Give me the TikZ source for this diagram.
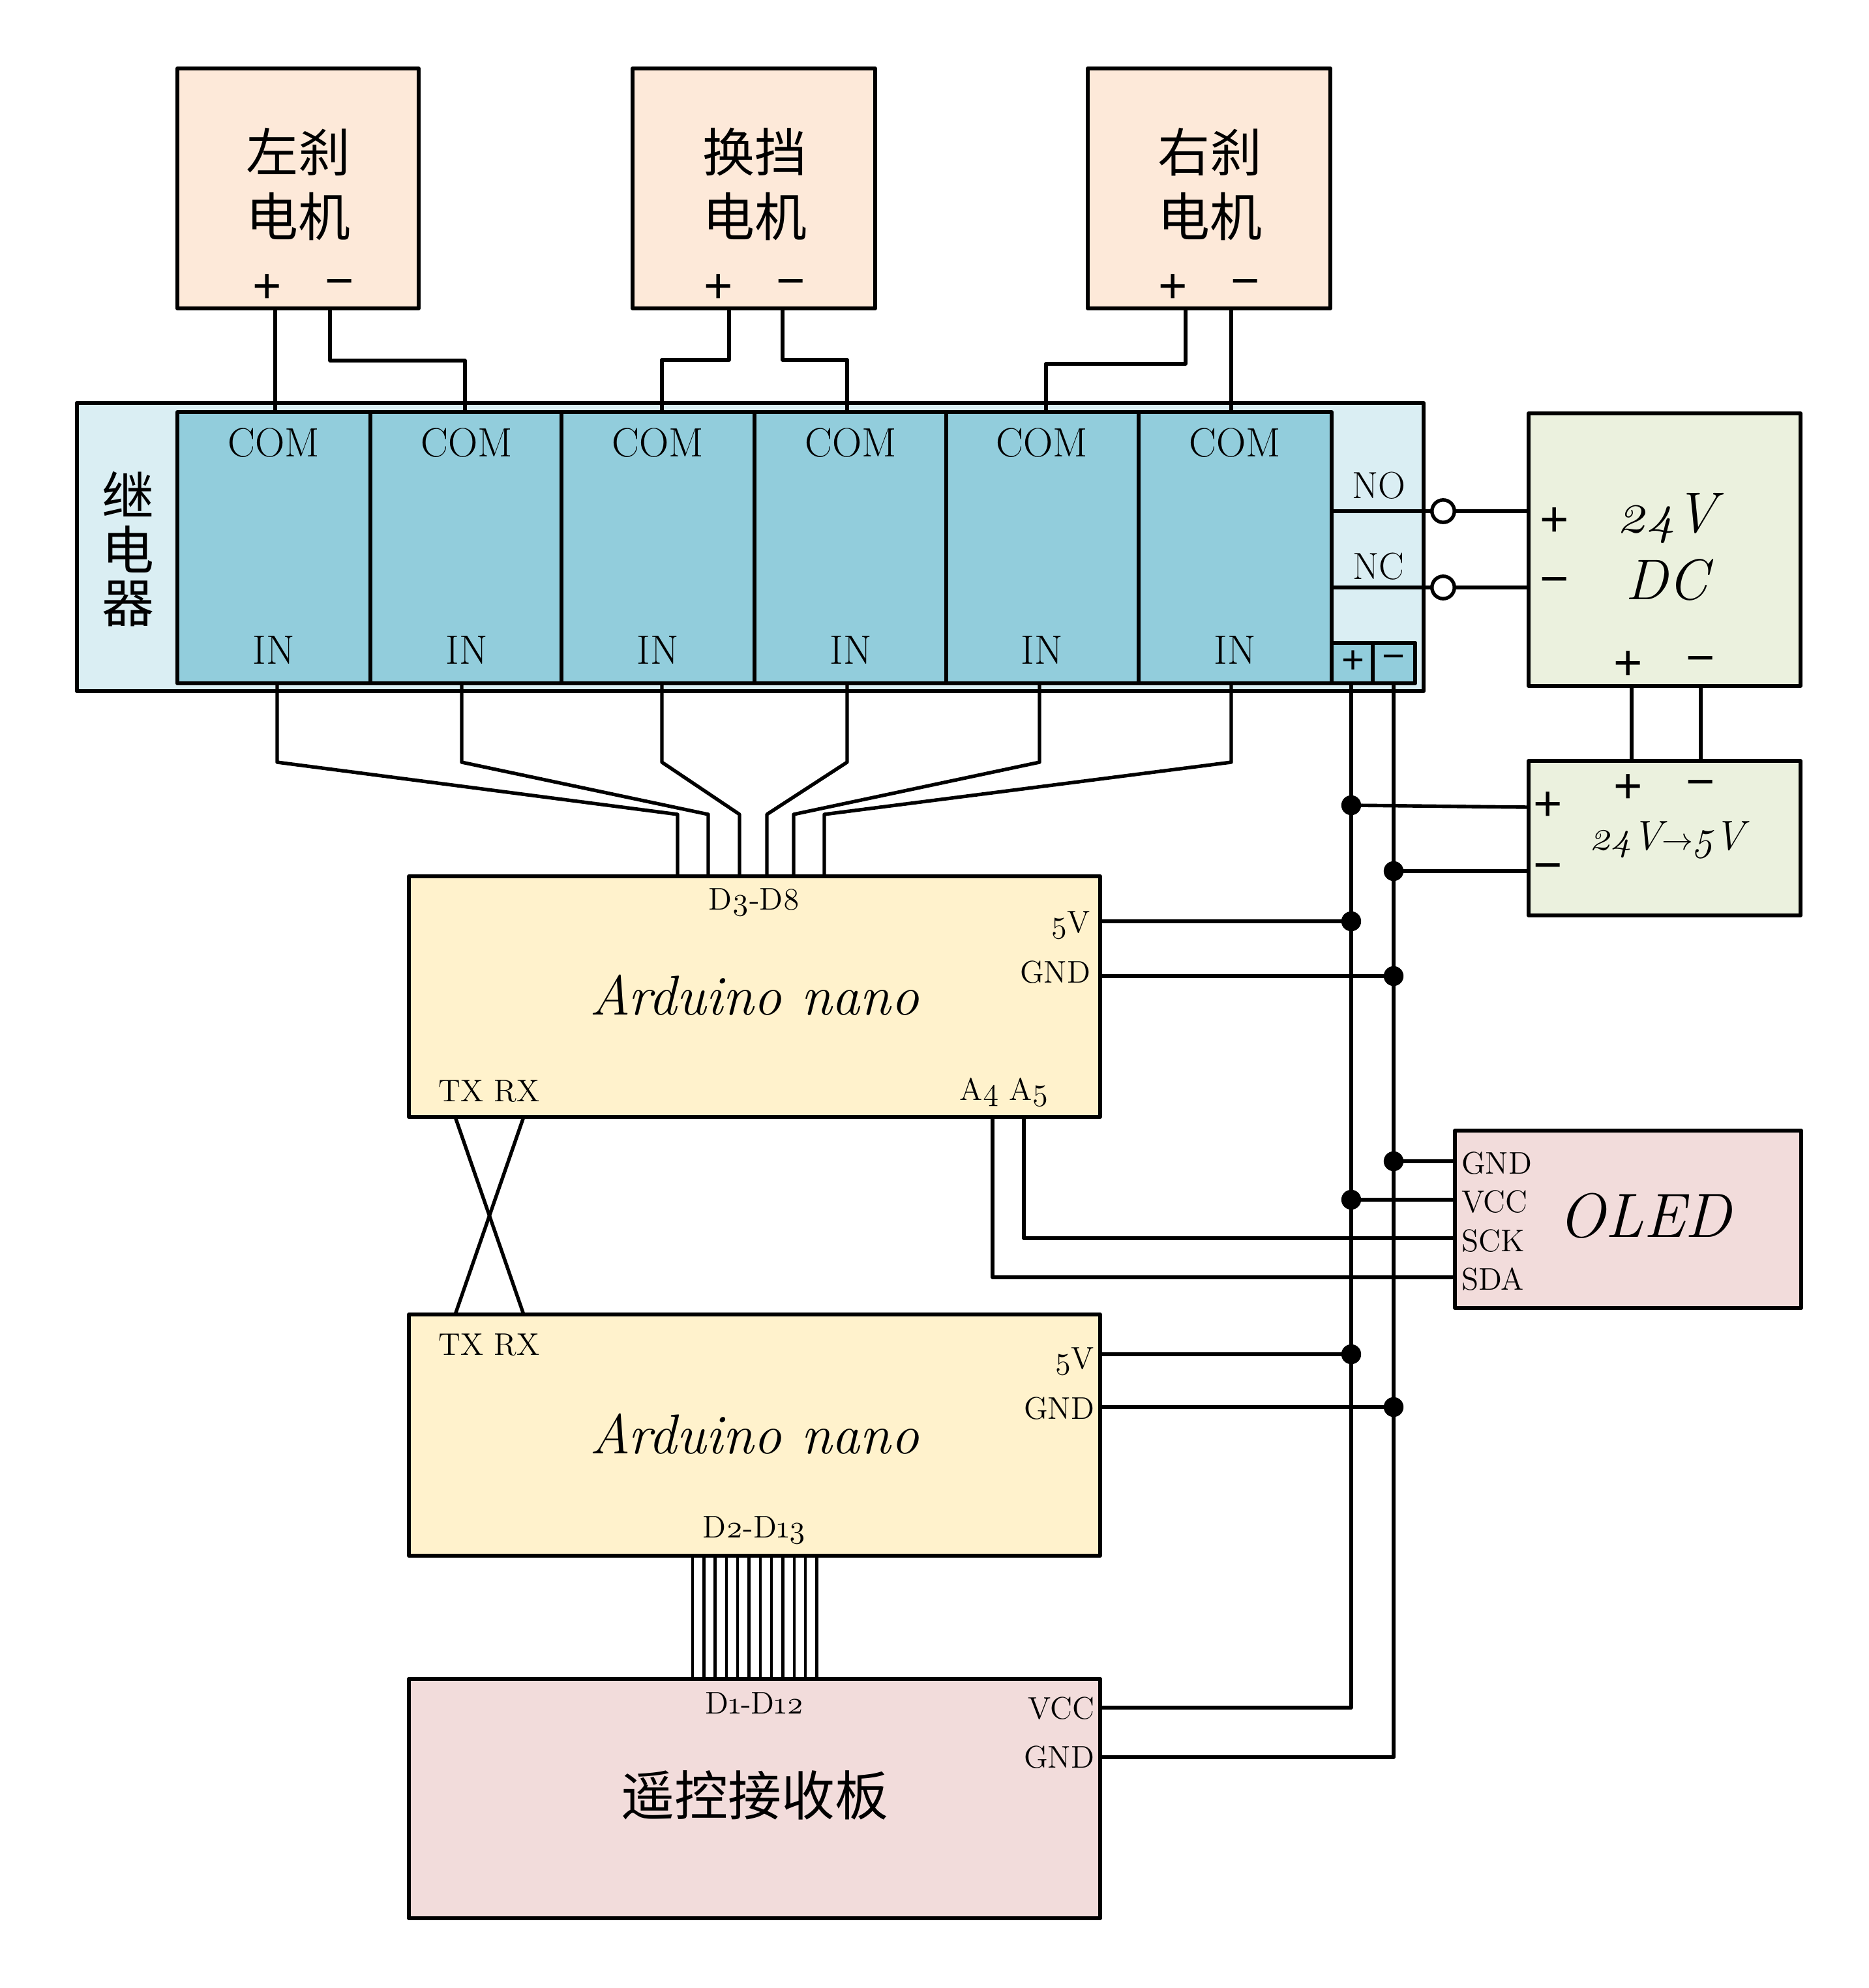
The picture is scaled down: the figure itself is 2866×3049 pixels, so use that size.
\documentclass[tikz,border=0pt]{standalone}
\usepackage{fontspec}
\setmainfont{Latin Modern Roman}[Numbers=OldStyle]
\newfontfamily\cjk{Noto Sans CJK SC}
\newfontfamily\signfont{Liberation Sans}
\definecolor{motorfill}{HTML}{FDE9D9}
\definecolor{relayout}{HTML}{DAEEF3}
\definecolor{relayin}{HTML}{92CDDC}
\definecolor{powerfill}{HTML}{EBF1DE}
\definecolor{unofill}{HTML}{FFF2CC}
\definecolor{pinkfill}{HTML}{F2DCDB}
\newcommand{\fs}[1]{\fontsize{#1}{#1}\selectfont}
% name x1 y1 x2 y2 fill
\newcommand{\pbox}[6]{\node[boxshape,fill=#6,minimum width={(#4-#3+0)*0.25pt-(#4-#4)*1pt},minimum height={(#5-#3+#3-#3)*0pt+1pt}] at (0,0) {};}
\newcommand{\rectnode}[6]{\node[boxshape,fill=#6,minimum width={(#4-#2)*0.25pt},minimum height={(#5-#3)*0.25pt}] (#1) at ({(#2+#4)/2},{(#3+#5)/2}) {};}
\tikzset{
  boxshape/.style={draw=black,line width=1.5pt,inner sep=0pt,outer sep=0pt,rectangle,line join=round},
  wire/.style={draw=black,line width=1.35pt,line join=round},
  thinwire/.style={draw=black,line width=1.1pt},
  dotnode/.style={circle,fill=black,draw=none,minimum size=7.6pt,inner sep=0pt,outer sep=0pt},
  opennode/.style={circle,fill=white,draw=black,line width=1.35pt,minimum size=8.6pt,inner sep=0pt,outer sep=0pt},
  lab/.style={inner sep=0pt,outer sep=0pt,font=\fs{12}},
  comlab/.style={inner sep=0pt,outer sep=0pt,font=\fs{15.7}},
  sign/.style={inner sep=0pt,outer sep=0pt,font=\signfont\fs{19}},
  smallsign/.style={inner sep=0pt,outer sep=0pt,font=\signfont\fs{15}},
  cjklab/.style={inner sep=0pt,outer sep=0pt,font=\cjk\fs{20}},
  bigit/.style={inner sep=0pt,outer sep=0pt,font=\itshape\fs{21.5}},
}
\begin{document}
\begin{tikzpicture}[x=0.25pt,y=-0.25pt]
\useasboundingbox (0,0) rectangle (2866,3049);
% motors
\rectnode{ml}{272}{105}{642}{473}{motorfill}
\rectnode{mc}{970}{105}{1342}{473}{motorfill}
\rectnode{mr}{1668}{105}{2040}{473}{motorfill}
\node[cjklab] (mlA) at (457,233) {左刹};
\node[cjklab] (mlB) at (457,332) {电机};
\node[cjklab] (mcA) at (1157,233) {换挡};
\node[cjklab] (mcB) at (1157,332) {电机};
\node[cjklab] (mrA) at (1855,233) {右刹};
\node[cjklab] (mrB) at (1855,332) {电机};
\node[sign] (mlp) at (410,443) {+};
\node[sign] (mlm) at (521,443) {−};
\node[sign] (mcp) at (1102,443) {+};
\node[sign] (mcm) at (1213,443) {−};
\node[sign] (mrp) at (1799,443) {+};
\node[sign] (mrm) at (1910,443) {−};
% relay
\rectnode{relay}{118}{618}{2183}{1060}{relayout}
\rectnode{r1}{272}{632}{568}{1048}{relayin}
\rectnode{r2}{568}{632}{861}{1048}{relayin}
\rectnode{r3}{861}{632}{1157}{1048}{relayin}
\rectnode{r4}{1157}{632}{1451}{1048}{relayin}
\rectnode{r5}{1451}{632}{1746}{1048}{relayin}
\rectnode{r6}{1746}{632}{2042}{1048}{relayin}
\rectnode{rp}{2042}{986}{2105}{1048}{relayin}
\rectnode{rm}{2105}{986}{2170}{1048}{relayin}
\node[cjklab] (rA) at (196,758) {继};
\node[cjklab] (rB) at (196,842) {电};
\node[cjklab] (rC) at (196,926) {器};
\foreach \n/\x in {1/420,2/716,3/1009,4/1305,5/1598,6/1894}{
  \node[comlab] (com\n) at (\x,679) {COM};
  \node[comlab] (in\n) at (\x,997) {IN};
}
\node[comlab,font=\fs{14.5}] (no) at (2114,745) {NO};
\node[comlab,font=\fs{14.5}] (nc) at (2114,869) {NC};
\node[smallsign] (rplab) at (2075,1015) {+};
\node[smallsign] (rmlab) at (2137,1015) {−};
% power
\rectnode{dc}{2344}{634}{2761}{1052}{powerfill}
\rectnode{conv}{2344}{1167}{2761}{1404}{powerfill}
\node[inner sep=0pt,font=\itshape\fs{22}] (dcA) at (2556,795) {24V};
\node[inner sep=0pt,font=\itshape\fs{22}] (dcB) at (2556,889) {DC};
\node[sign] (dclp) at (2384,801) {+};
\node[sign] (dclm) at (2384,900) {−};
\node[sign] (dcbp) at (2497,1021) {+};
\node[sign] (dcbm) at (2608,1021) {−};
\node[sign] (ctp) at (2497,1210) {+};
\node[sign] (ctm) at (2608,1210) {−};
\node[sign] (clp) at (2374,1237) {+};
\node[sign] (clm) at (2374,1338) {−};
\node[inner sep=0pt,font=\itshape\fs{16}] (convT) at (2556,1289) {24V{\fs{12}$\rightarrow$}5V};
% boards
\rectnode{uA}{627}{1344}{1687}{1713}{unofill}
\rectnode{uB}{627}{2016}{1687}{2386}{unofill}
\rectnode{rx}{627}{2575}{1687}{2942}{pinkfill}
\rectnode{oled}{2231}{1734}{2762}{2006}{pinkfill}
\node[bigit] (uAt) at (1157,1526) {Arduino nano};
\node[bigit] (uBt) at (1157,2199) {Arduino nano};
\node[cjklab,font=\cjk\fs{20.5}] (rxt) at (1157,2753) {遥控接收板};
\node[inner sep=0pt,font=\itshape\fs{24}] (oledt) at (2522,1865) {OLED};
\node[lab] (d38) at (1157,1384) {D3-D8};
\node[lab,anchor=east] (a5v) at (1672,1419) {5V};
\node[lab,anchor=east] (agnd) at (1672,1491) {GND};
\node[lab] (atx) at (750,1674) {TX RX};
\node[lab] (aa4) at (1540,1676) {A4 A5};
\node[lab] (btx) at (750,2063) {TX RX};
\node[lab,anchor=east] (b5v) at (1678,2088) {5V};
\node[lab,anchor=east] (bgnd) at (1678,2160) {GND};
\node[lab] (d213) at (1157,2347) {D2-D13};
\node[lab] (d112) at (1157,2612) {D1-D12};
\node[lab,anchor=east] (rvcc) at (1678,2620) {VCC};
\node[lab,anchor=east] (rgnd) at (1678,2695) {GND};
\node[lab,anchor=west] (ognd) at (2241,1784) {GND};
\node[lab,anchor=west] (ovcc) at (2241,1843) {VCC};
\node[lab,anchor=west] (osck) at (2241,1903) {SCK};
\node[lab,anchor=west] (osda) at (2241,1962) {SDA};
% junctions
\node[dotnode] (j1) at (2072,1235) {};
\node[dotnode] (j2) at (2137,1336) {};
\node[dotnode] (j3) at (2072,1413) {};
\node[dotnode] (j4) at (2137,1497) {};
\node[dotnode] (j5) at (2137,1781) {};
\node[dotnode] (j6) at (2072,1840) {};
\node[dotnode] (j7) at (2072,2077) {};
\node[dotnode] (j8) at (2137,2158) {};
\node[opennode] (no2) at (2213,784) {};
\node[opennode] (nc2) at (2213,901) {};
% motor wires
\draw[wire] (ml.south -| 422,0) -- (r1.north -| 422,0);
\draw[wire] (ml.south -| 506,0) |- (713,553) -- (r2.north -| 713,0);
\draw[wire] (mc.south -| 1118,0) |- (1015,552) -- (r3.north -| 1015,0);
\draw[wire] (mc.south -| 1200,0) |- (1299,552) -- (r4.north -| 1299,0);
\draw[wire] (mr.south -| 1818,0) |- (1604,558) -- (r5.north -| 1604,0);
\draw[wire] (mr.south -| 1888,0) -- (r6.north -| 1888,0);
% relay inputs
\draw[wire] (r1.south -| 425,0) -- (425,1169) -- (1039,1249) -- (uA.north -| 1039,0);
\draw[wire] (r2.south -| 708,0) -- (708,1169) -- (1086,1249) -- (uA.north -| 1086,0);
\draw[wire] (r3.south -| 1015,0) -- (1015,1169) -- (1134,1249) -- (uA.north -| 1134,0);
\draw[wire] (r4.south -| 1299,0) -- (1299,1169) -- (1176,1249) -- (uA.north -| 1176,0);
\draw[wire] (r5.south -| 1594,0) -- (1594,1169) -- (1217,1249) -- (uA.north -| 1217,0);
\draw[wire] (r6.south -| 1888,0) -- (1888,1169) -- (1264,1249) -- (uA.north -| 1264,0);
% NO NC
\draw[wire] (r6.east |- no2) -- (no2);
\draw[wire] (r6.east |- nc2) -- (nc2);
\draw[wire] (no2) -- (dc.west |- no2);
\draw[wire] (nc2) -- (dc.west |- nc2);
% power
\draw[wire] (dc.south -| 2502,0) -- (conv.north -| 2502,0);
\draw[wire] (dc.south -| 2608,0) -- (conv.north -| 2608,0);
\draw[wire] (j1) -- (conv.west |- 0,1238);
\draw[wire] (j2) -- (conv.west |- j2);
% buses
\draw[wire] (rp.south -| j1) -- (j1) -- (j3) -- (j6) -- (j7) -- (2072,2619) -- (rx.east |- 0,2619);
\draw[wire] (rm.south -| j2) -- (j2) -- (j4) -- (j5) -- (j8) -- (2137,2695) -- (rx.east |- 0,2695);
% board power
\draw[wire] (uA.east |- j3) -- (j3);
\draw[wire] (uA.east |- j4) -- (j4);
\draw[wire] (uB.east |- j7) -- (j7);
\draw[wire] (uB.east |- j8) -- (j8);
\draw[wire] (j5) -- (oled.west |- j5);
\draw[wire] (j6) -- (oled.west |- j6);
% I2C
\draw[wire] (uA.south -| 1570,0) |- (oled.west |- 0,1899);
\draw[wire] (uA.south -| 1522,0) |- (oled.west |- 0,1959);
% serial
\draw[wire] (uA.south -| 698,0) -- (uB.north -| 803,0);
\draw[wire] (uA.south -| 803,0) -- (uB.north -| 698,0);
% ribbon
\foreach \x in {1062,1079.3,1096.6,1113.9,1131.2,1148.5,1165.8,1183.1,1200.4,1217.7,1235,1252.3}{
  \draw[thinwire] (uB.south -| \x,0) -- (rx.north -| \x,0);
}
\end{tikzpicture}
\end{document}
